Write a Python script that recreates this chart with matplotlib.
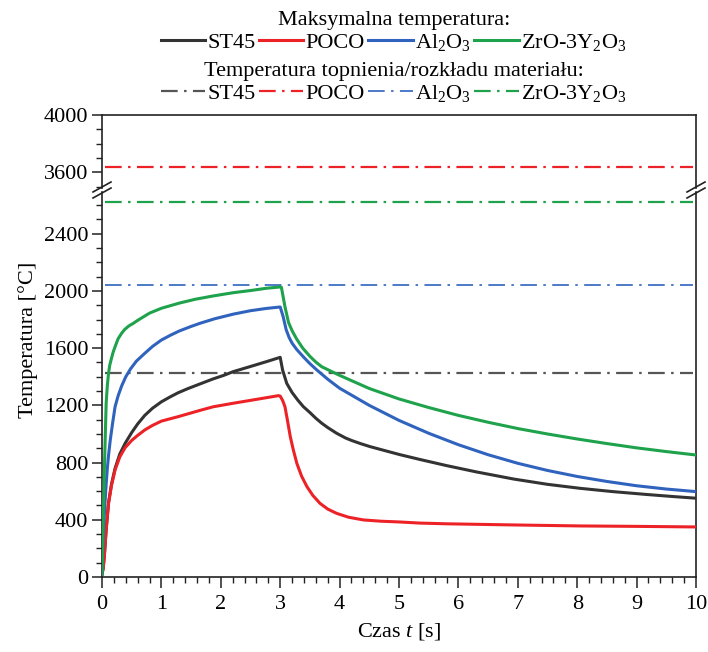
import numpy as np
import matplotlib
matplotlib.use('Agg')
import matplotlib.pyplot as plt
from matplotlib.lines import Line2D
from matplotlib.ticker import MultipleLocator, FixedLocator

plt.rcParams['font.family'] = ['Liberation Serif', 'DejaVu Serif']
plt.rcParams['mathtext.fontset'] = 'custom'
plt.rcParams['mathtext.rm'] = 'Liberation Serif'
plt.rcParams['mathtext.it'] = 'Liberation Serif:italic'
plt.rcParams['lines.scale_dashes'] = False

# ---------------- data ----------------
materials = ['ST45', 'POCO', 'Al$_2$O$_3$', 'ZrO-3Y$_2$O$_3$']
colors = ['#333333', '#ec2227', '#2f63be', '#1ea24b']
melt_colors = ['#555555', '#ec2227', '#2f63be', '#1ea24b']
melt_temp = [1425, 3640, 2045, 2625]

t_st45 = [0, 0.02, 0.04, 0.07, 0.11, 0.16, 0.22, 0.3, 0.39, 0.5, 0.6, 0.72, 0.85, 1.0, 1.15,
          1.28, 1.45, 1.65, 1.87, 2.05, 2.21, 2.5, 2.77, 3.0, 3.04, 3.11, 3.2, 3.3, 3.39, 3.5,
          3.6, 3.7, 3.8, 3.95, 4.1, 4.2, 4.35, 4.51, 4.75, 5.02, 5.35, 5.8, 6.3, 6.93, 7.5,
          8.05, 8.6, 9.17, 9.6, 10]
T_st45 = [20, 60, 150, 330, 520, 650, 760, 860, 935, 1010, 1070, 1130, 1180, 1225, 1260,
          1288, 1318, 1350, 1385, 1410, 1436, 1472, 1506, 1536, 1448, 1354, 1290, 1235, 1191, 1150,
          1110, 1075, 1045, 1005, 972, 955, 933, 912, 885, 855, 822, 779, 735, 685, 648,
          620, 597, 577, 563, 551]

t_poco = [0, 0.02, 0.04, 0.07, 0.11, 0.16, 0.22, 0.3, 0.39, 0.5, 0.6, 0.72, 0.85, 1.0, 1.28,
          1.65, 1.87, 2.21, 2.5, 2.77, 2.97, 3.0, 3.04, 3.08, 3.12, 3.17, 3.22, 3.28, 3.36, 3.45,
          3.55, 3.67, 3.8, 3.95, 4.15, 4.4, 4.7, 5.0, 5.35, 5.8, 6.93, 8.05, 9.0, 10]
T_poco = [20, 60, 150, 330, 515, 640, 748, 840, 905, 955, 990, 1028, 1060, 1090, 1121,
          1165, 1190, 1215, 1235, 1254, 1268, 1265, 1235, 1191, 1100, 981, 890, 795, 705, 632,
          570, 515, 475, 445, 418, 399, 390, 385, 377, 372, 364, 357, 354, 350]

t_al2o3 = [0, 0.01, 0.02, 0.035, 0.05, 0.07, 0.09, 0.11, 0.14, 0.18, 0.22, 0.27, 0.33, 0.4,
           0.48, 0.58, 0.72, 0.85, 1.0, 1.15, 1.3, 1.5, 1.65, 1.9, 2.21, 2.5, 2.77, 3.0,
           3.05, 3.1, 3.15, 3.2, 3.28, 3.4, 3.5, 3.61, 3.8, 4.0, 4.5, 5.0, 5.5, 6.0, 6.5, 7.0,
           7.5, 8.0, 8.5, 9.0, 9.5, 10]
T_al2o3 = [20, 150, 260, 400, 517, 650, 760, 850, 960, 1080, 1190, 1265, 1335, 1400,
           1455, 1510, 1564, 1612, 1657, 1690, 1720, 1752, 1774, 1806, 1838, 1862, 1878, 1888,
           1820, 1730, 1675, 1635, 1590, 1535, 1492, 1450, 1383, 1320, 1200, 1095, 1005, 925, 855, 795,
           745, 703, 668, 638, 615, 597]

t_zro2 = [0, 0.02, 0.04, 0.07, 0.09, 0.11, 0.13, 0.16, 0.19, 0.22, 0.27, 0.33, 0.38, 0.45,
          0.52, 0.61, 0.8, 1.0, 1.3, 1.57, 1.87, 2.21, 2.5, 2.77, 3.0, 3.02, 3.08, 3.14, 3.2,
          3.28, 3.38, 3.5, 3.6, 3.7, 4.0, 4.5, 5.0, 5.5, 6.0, 6.5, 7.0, 7.5, 8.0, 8.5, 9.0,
          9.5, 10]
T_zro2 = [20, 400, 750, 1215, 1340, 1424, 1480, 1530, 1575, 1610, 1665, 1704, 1730, 1755,
          1772, 1797, 1845, 1879, 1915, 1942, 1965, 1988, 2003, 2019, 2028, 2026, 1890, 1780, 1722,
          1662, 1600, 1543, 1503, 1470, 1410, 1318, 1245, 1185, 1130, 1082, 1038, 1000, 965, 933, 903,
          877, 853]

series_t = [t_st45, t_poco, t_al2o3, t_zro2]
series_T = [T_st45, T_poco, T_al2o3, T_zro2]

x_ticks = list(range(0, 11))
y_ticks_low = [0, 400, 800, 1200, 1600, 2000, 2400]
y_ticks_high = [3600, 4000]

# ---------------- figure ----------------
W, H = 708, 652
FS = 16
fig = plt.figure(figsize=(W / 100, H / 100), dpi=100)

def px(x0, y0, x1, y1):
    return [x0 / W, 1 - y1 / H, (x1 - x0) / W, (y1 - y0) / H]

ax_lo = fig.add_axes(px(102, 192, 696, 577))
ax_hi = fig.add_axes(px(102, 115, 696, 188))

ax_lo.set_ylim(0, 2692)
ax_hi.set_ylim(3490, 4000)
for ax in (ax_lo, ax_hi):
    ax.set_xlim(0, 10)
    for s in ax.spines.values():
        s.set_linewidth(1.2)
        s.set_color('#222222')
    ax.tick_params(which='major', direction='out', length=7, width=1.1, labelsize=FS,
                   color='#222222', pad=3)
    ax.tick_params(which='minor', direction='out', length=4.5, width=1.0, color='#222222')
    ax.tick_params(axis='y', right=False)

ax_lo.spines['top'].set_visible(False)
ax_hi.spines['bottom'].set_visible(False)
ax_hi.tick_params(axis='x', which='both', bottom=False, labelbottom=False)

ax_lo.xaxis.set_major_locator(FixedLocator(x_ticks))
ax_lo.xaxis.set_minor_locator(MultipleLocator(0.2))
ax_lo.set_xticklabels([str(v) for v in x_ticks])
ax_lo.tick_params(axis='x', which='major', length=8, pad=5)
ax_lo.yaxis.set_major_locator(FixedLocator(y_ticks_low))
ax_lo.yaxis.set_minor_locator(MultipleLocator(100))
ax_lo.set_yticklabels([str(v) for v in y_ticks_low])
ax_hi.yaxis.set_major_locator(FixedLocator(y_ticks_high))
ax_hi.yaxis.set_minor_locator(MultipleLocator(100))
ax_hi.set_yticklabels([str(v) for v in y_ticks_high])

# max temperature curves
max_handles = []
for t, T, c in zip(series_t, series_T, colors):
    ln, = ax_lo.plot(t, T, color=c, lw=2.2, solid_joinstyle='round', zorder=3)
    max_handles.append(ln)

# melting / decomposition lines
dash = (0, (12, 4.6, 1.8, 4.6))
melt_handles = []
for Tm, c in zip(melt_temp, melt_colors):
    lw = 1.2 if c == '#2f63be' else 1.6
    for ax in (ax_lo, ax_hi):
        lo, hi = ax.get_ylim()
        if lo <= Tm <= hi:
            ax.axhline(Tm, xmin=0.005, xmax=0.995, color=c, lw=lw, linestyle=dash, zorder=2)
    melt_handles.append(Line2D([], [], color=c, lw=lw, linestyle=dash))

# axis break marks
def slash(xc, yc):
    for off in (-3, 3):
        x0, y0 = xc - 9, yc + 5 + off
        x1, y1 = xc + 9, yc - 5 + off
        fig.add_artist(Line2D([x0 / W, x1 / W], [1 - y0 / H, 1 - y1 / H],
                              transform=fig.transFigure, color='#222222', lw=1.2))

slash(102, 190)
slash(696, 190)

# labels
fig.text(28 / W, 1 - 340 / H, 'Temperatura [°C]', rotation=90, ha='center', va='center', fontsize=FS)
fig.text(399 / W, 1 - 632 / H, 'Czas $t$ [s]', ha='center', va='center', fontsize=FS)

leg_kw = dict(ncol=4, loc='center', frameon=False, handlelength=2.0, handletextpad=0.1,
              columnspacing=0.15, fontsize=FS, title_fontsize=FS, borderpad=0, labelspacing=0.2,
              borderaxespad=0)
leg1 = fig.legend(max_handles, materials, title='Maksymalna temperatura:',
                  bbox_to_anchor=(0.556, 1 - 32 / H), **leg_kw)
leg2 = fig.legend(melt_handles, materials, title='Temperatura topnienia/rozkładu materiału:',
                  bbox_to_anchor=(0.556, 1 - 83 / H), **leg_kw)
for lg in (leg1, leg2):
    lg._legend_box.sep = 1

fig.savefig('out.png', dpi=100, facecolor='white')
